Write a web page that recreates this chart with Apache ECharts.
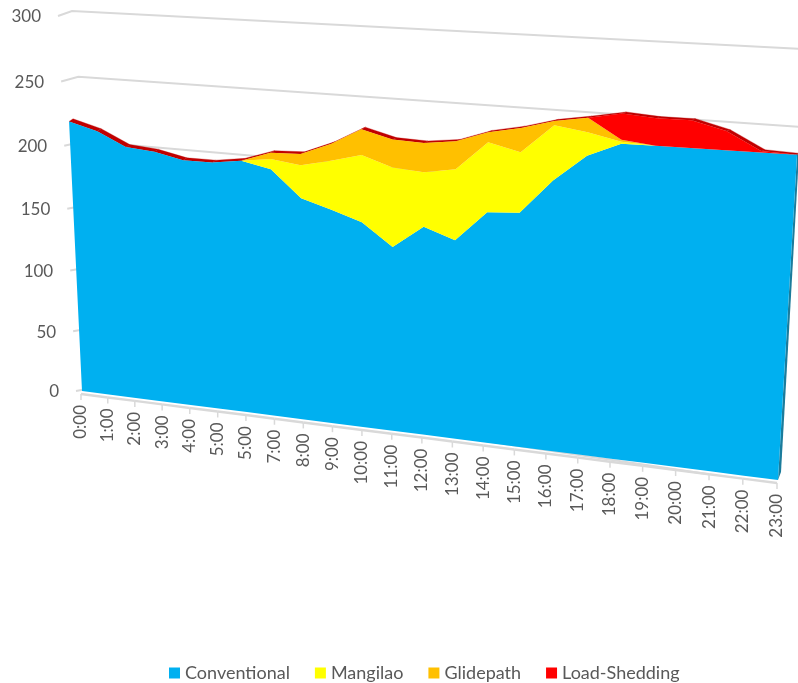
<!DOCTYPE html>
<html>
<head>
<meta charset="utf-8">
<title>Load by hour</title>
<style>
  html, body { margin: 0; padding: 0; background: #fff; }
  #chart { width: 798px; height: 683px; }
</style>
<script src="https://cdn.jsdelivr.net/npm/echarts@6/dist/echarts.min.js"></script>
</head>
<body>
<div id="chart"></div>
<script>
const hours = ["0:00","1:00","2:00","3:00","4:00","5:00","5:00","7:00","8:00","9:00","10:00","11:00","12:00","13:00","14:00","15:00","16:00","17:00","18:00","19:00","20:00","21:00","22:00","23:00"];
const yTicks = [0, 50, 100, 150, 200, 250, 300];
const conventional = [219,213,202.4,200.5,195.7,195.8,199,194.2,174.2,167.3,159.9,143.4,160.7,152.7,175.6,177.3,202.8,222.2,232.6,232.8,233,233.2,233.4,233.6];
const mangilao = [0,0,0,0,0,0,0,7.8,25,37,50.4,59.6,40.6,52.6,51.1,44,39.4,16.7,1.3,0,0,0,0,0];
const glidepath = [0,0,0,0,0,0,0,4.7,8.4,12.6,19.2,20.5,21.5,20.4,7.2,17.4,3,10.3,1.5,0,0,0,0,0];
const loadShedding = [0,0,0,0,0,0,0,0,0,0,0,0,0,0,0,0,0,0,18.3,19.3,19.3,13.2,1,0];

const layerNames = ["Conventional", "Mangilao", "Glidepath", "Load-Shedding"];
const layerValues = [conventional, mangilao, glidepath, loadShedding];
const layerColors = ["#00b0f0", "#ffff00", "#ffc000", "#ff0000"];
const textColor = "#595959";
const lineColor = "#d9d9d9";
const font = "17px Lato, sans-serif";

// perspective map from the unit square onto a screen quad
function quadMap(p00, p10, p01, p11) {
  const dx1 = p10[0] - p11[0], dx2 = p01[0] - p11[0], sx = p00[0] - p10[0] + p11[0] - p01[0];
  const dy1 = p10[1] - p11[1], dy2 = p01[1] - p11[1], sy = p00[1] - p10[1] + p11[1] - p01[1];
  const den = dx1 * dy2 - dx2 * dy1;
  const g = (sx * dy2 - dx2 * sy) / den;
  const h = (dx1 * sy - sx * dy1) / den;
  return (s, t) => {
    const w = 1 + g * s + h * t;
    return [
      (p00[0] + s * (p10[0] * (1 + g) - p00[0]) + t * (p01[0] * (1 + h) - p00[0])) / w,
      (p00[1] + s * (p10[1] * (1 + g) - p00[1]) + t * (p01[1] * (1 + h) - p00[1])) / w,
    ];
  };
}

const frontPlane = quadMap([82, 391], [778, 480], [64, 16], [802.8, 56.3]);
const backWall = quadMap([108, 385], [815, 490], [72, 11], [830, 50.5]);

function place(plane, api, params, i, v) {
  const p = api.coord([i, v]);
  const cs = params.coordSys;
  return plane((p[0] - cs.x) / cs.width, 1 - (p[1] - cs.y) / cs.height);
}

// running totals for the stacked layers
const stacks = [];
layerValues.forEach((values, k) => {
  stacks.push(values.map((v, i) => (k ? stacks[k - 1][i] : 0) + v));
});
const topLine = stacks[stacks.length - 1];

function renderWall(params, api) {
  const v = api.value(1);
  const front = place(frontPlane, api, params, 0, v);
  const back = place(backWall, api, params, 0, v);
  // lines under the area stop behind it
  const end = place(backWall, api, params, v > 200 ? 23 : 20, v);
  const tick = [front[0] - 6, front[1]];
  return {
    type: "group",
    children: [
      { type: "polyline", shape: { points: [tick, back, end] }, style: { stroke: lineColor, lineWidth: 2, fill: null } },
      { type: "text", x: front[0] - 23, y: front[1] + 1, style: { text: String(v), fill: textColor, font: font, align: "right", verticalAlign: "middle" } },
    ],
  };
}

function renderTopFace(params, api) {
  const i = api.value(0);
  if (i >= 23) return null;
  const a = place(frontPlane, api, params, i, topLine[i]);
  const b = place(frontPlane, api, params, i + 1, topLine[i + 1]);
  const rise = (n) => 2.6 - n / 18;
  const pts = [a, b, [b[0] + 4, b[1] - rise(i + 1)], [a[0] + 4, a[1] - rise(i)]];
  return { type: "polygon", shape: { points: pts }, style: { fill: "#c00000", stroke: "#c00000", lineWidth: 0.3 } };
}

function renderSide(params, api) {
  if (params.dataIndex !== 23) return null;
  const bottom = place(frontPlane, api, params, 23, 0);
  const top = place(frontPlane, api, params, 23, topLine[23]);
  const pts = [bottom, [bottom[0] + 3, bottom[1] - 8], [top[0] + 2, top[1] - 1], top];
  return { type: "polygon", shape: { points: pts }, style: { fill: "#1b7c9c" } };
}

function renderLayer(k) {
  return (params, api) => {
    if (params.dataIndex !== 0) return null;
    const pts = [];
    for (let i = 0; i < hours.length; i++) pts.push(place(frontPlane, api, params, i, stacks[k][i]));
    for (let i = hours.length - 1; i >= 0; i--) pts.push(place(frontPlane, api, params, i, k ? stacks[k - 1][i] : 0));
    return { type: "polygon", shape: { points: pts }, style: { fill: layerColors[k] } };
  };
}

function renderXAxis(params, api) {
  const i = api.value(0);
  const p = place(frontPlane, api, params, i, 0);
  const children = [
    { type: "line", shape: { x1: p[0] - 1, y1: p[1] + 3, x2: p[0] - 1, y2: p[1] + 9 }, style: { stroke: lineColor, lineWidth: 1.5 } },
    { type: "text", x: p[0] - 1, y: p[1] + 14, rotation: Math.PI / 2, style: { text: hours[i], fill: textColor, font: font, align: "right", verticalAlign: "middle" } },
  ];
  if (i < 23) {
    const q = place(frontPlane, api, params, i + 1, 0);
    children.push({ type: "line", shape: { x1: p[0] - 1, y1: p[1] + 3, x2: q[0] - 1, y2: q[1] + 3 }, style: { stroke: lineColor, lineWidth: 2.5 } });
  }
  return { type: "group", children: children };
}

const hourRows = hours.map((h, i) => [i, 0]);

function helper(name, data, renderItem) {
  return { name: name, type: "custom", data: data, encode: { x: 0, y: 1 }, renderItem: renderItem, silent: true, clip: false };
}

const chart = echarts.init(document.getElementById("chart"));
chart.setOption({
  animation: false,
  backgroundColor: "#fff",
  grid: { left: 80, right: 20, top: 15, bottom: 200 },
  xAxis: { type: "category", data: hours, boundaryGap: false, show: false },
  yAxis: { type: "value", min: 0, max: 300, interval: 50, show: false },
  legend: {
    data: layerNames.map((name) => ({ name: name, icon: "rect" })),
    left: 164,
    top: 659,
    itemWidth: 11,
    itemHeight: 11,
    itemGap: 25,
    selectedMode: false,
    textStyle: { color: textColor, fontFamily: "Lato, sans-serif", fontSize: 18 },
  },
  series: [
    helper("walls", yTicks.map((v) => [0, v]), renderWall),
    helper("top face", hourRows, renderTopFace),
    helper("side", hourRows, renderSide),
    ...layerNames.map((name, k) => ({
      ...helper(name, hourRows, renderLayer(k)),
      itemStyle: { color: layerColors[k] },
    })),
    helper("x axis", hourRows, renderXAxis),
  ],
});
</script>
</body>
</html>
